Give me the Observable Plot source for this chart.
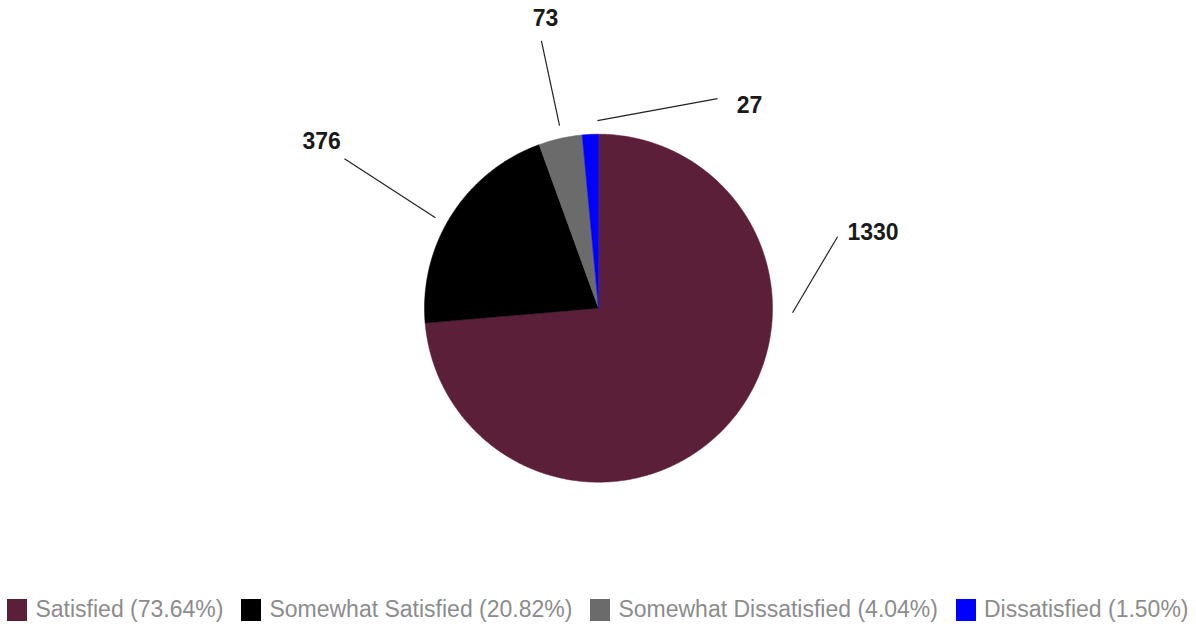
<!DOCTYPE html>
<html><head><meta charset="utf-8">
<script src="https://cdn.jsdelivr.net/npm/d3@7"></script>
<script src="https://cdn.jsdelivr.net/npm/@observablehq/plot@0.6"></script>
<style>
html,body{margin:0;padding:0;background:#fff;}
#chart svg{display:block;}
#legend{display:flex;justify-content:center;align-items:center;gap:18px;height:35px;font-family:"Liberation Sans",Arial,sans-serif;font-size:23px;color:#8c8c8c;white-space:nowrap;}
.item{display:flex;align-items:center;gap:8px;}
.sw{width:20px;height:22px;display:inline-block;}
</style></head><body><div id="chart"></div><div id="legend"></div>
<script>
// ---- data ----
const categories = ["Satisfied", "Somewhat Satisfied", "Somewhat Dissatisfied", "Dissatisfied"];
const counts = [1330, 376, 73, 27];
const percentLabels = ["73.64%", "20.82%", "4.04%", "1.50%"];
const colors = ["#5c1f3a", "#000000", "#6b6b6b", "#0000ff"];

// ---- label layout (in pie-radius units, y up) ----
const leaderStart = [[1.115, -0.026], [-0.937, 0.52], [-0.224, 1.049], [-0.006, 1.078]];
const leaderEnd = [[1.374, 0.411], [-1.46, 0.859], [-0.328, 1.537], [0.684, 1.204]];
const labelPos = [[1.578, 0.434], [-1.591, 0.955], [-0.305, 1.666], [0.868, 1.164]];

const R = 174, cx = 598, cy = 307.7;

const arcs = d3.pie().sort(null).value(d => d.value)(categories.map((c, i) => ({category: c, value: counts[i]})));
const slicePts = [];
arcs.forEach(a => {
  const c = a.data.category;
  slicePts.push({category: c, x: 0, y: 0});
  const n = Math.max(2, Math.ceil((a.endAngle - a.startAngle) / (Math.PI / 360)));
  for (let k = 0; k <= n; k++) {
    const t = a.startAngle + (a.endAngle - a.startAngle) * k / n;
    slicePts.push({category: c, x: Math.sin(t), y: Math.cos(t)});
  }
  slicePts.push({category: c, x: 0, y: 0});
});

const leaders = categories.map((c, i) => ({x1: leaderStart[i][0], y1: leaderStart[i][1], x2: leaderEnd[i][0], y2: leaderEnd[i][1]}));
const labels = categories.map((c, i) => ({x: labelPos[i][0], y: labelPos[i][1], text: String(counts[i])}));

const chart = Plot.plot({
  width: 1196, height: 592, margin: 0,
  x: {domain: [-1, 1], range: [cx - R, cx + R], axis: null},
  y: {domain: [-1, 1], range: [cy + R, cy - R], axis: null},
  color: {domain: categories, range: colors},
  marks: [
    Plot.line(slicePts, {x: "x", y: "y", z: "category", fill: "category", stroke: "category", strokeWidth: 0.5, curve: "linear"}),
    Plot.link(leaders, {x1: "x1", y1: "y1", x2: "x2", y2: "y2", stroke: "#222", strokeWidth: 1.2}),
    Plot.text(labels, {x: "x", y: "y", text: "text", fontSize: 23, fontWeight: "bold", fontFamily: "Liberation Sans", fill: "#1a1a1a", textAnchor: "middle", lineAnchor: "middle"})
  ]
});
document.getElementById("chart").appendChild(chart);

const legend = document.getElementById("legend");
categories.forEach((c, i) => {
  const it = document.createElement("div");
  it.className = "item";
  const sw = document.createElement("span");
  sw.className = "sw";
  sw.style.background = colors[i];
  const tx = document.createElement("span");
  tx.textContent = `${c} (${percentLabels[i]})`;
  it.appendChild(sw); it.appendChild(tx);
  legend.appendChild(it);
});
</script></body></html>
